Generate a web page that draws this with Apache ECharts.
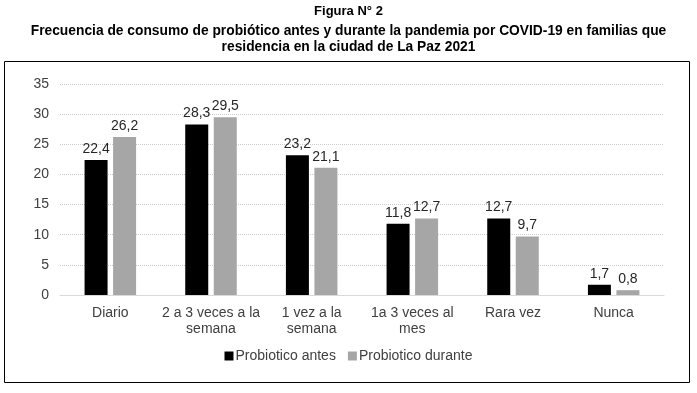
<!DOCTYPE html>
<html>
<head>
<meta charset="utf-8">
<script src="https://cdn.jsdelivr.net/npm/echarts@6/dist/echarts.min.js"></script>
<style>
  html, body { margin: 0; padding: 0; background: #fff; }
  #chart { width: 697px; height: 393px; }
</style>
</head>
<body>
<div id="chart"></div>
<script>
const categories = ['Diario', '2 a 3 veces a la\nsemana', '1 vez a la\nsemana', '1a 3 veces al\nmes', 'Rara vez', 'Nunca'];
const antes = [22.4, 28.3, 23.2, 11.8, 12.7, 1.7];
const durante = [26.2, 29.5, 21.1, 12.7, 9.7, 0.8];
const yTicks = [0, 5, 10, 15, 20, 25, 30, 35];
const titleLines = [
    'Figura N° 2',
    'Frecuencia de consumo de probiótico antes y durante la pandemia por COVID-19 en familias que',
    'residencia en la ciudad de La Paz 2021'
];

const font = '"Liberation Sans", Arial, sans-serif';
const fmt = p => String(p.value).replace('.', ',');
const titleTops = [5, 24, 40];
const titleSizes = [13, 13.8, 13.8];

const chart = echarts.init(document.getElementById('chart'));

chart.setOption({
    animation: false,
    textStyle: { fontFamily: font },
    title: titleLines.map((t, i) => ({
        text: t,
        left: 'center',
        top: titleTops[i],
        padding: 0,
        textStyle: { fontSize: titleSizes[i], fontWeight: 'bold', color: '#000', fontFamily: font }
    })),
    graphic: [{
        type: 'rect',
        shape: { x: 4.5, y: 61.5, width: 685, height: 321 },
        style: { fill: 'none', stroke: '#000', lineWidth: 1 },
        silent: true
    }],
    legend: {
        data: ['Probiotico antes', 'Probiotico durante'],
        bottom: 25,
        left: 'center',
        icon: 'rect',
        itemWidth: 9,
        itemHeight: 9,
        itemGap: 12,
        textStyle: { fontSize: 14, color: '#404040', padding: [0, 0, 0, -3] }
    },
    grid: { left: 60, right: 33, top: 84, bottom: 98 },
    xAxis: {
        type: 'category',
        data: categories,
        axisLine: { show: true, lineStyle: { color: '#d9d9d9' } },
        axisTick: { show: false },
        axisLabel: { fontSize: 14, color: '#404040', lineHeight: 16, margin: 10, interval: 0 }
    },
    yAxis: {
        type: 'value',
        min: yTicks[0],
        max: yTicks[yTicks.length - 1],
        interval: 5,
        axisLine: { show: false },
        axisTick: { show: false },
        axisLabel: { fontSize: 14, color: '#404040', margin: 11 },
        splitLine: { lineStyle: { color: '#cfc8cf', type: 'dotted' } }
    },
    series: [
        {
            name: 'Probiotico antes',
            type: 'bar',
            data: antes,
            barWidth: 23,
            barGap: '24%',
            itemStyle: { color: '#000' },
            label: { show: true, position: 'top', distance: 4, fontSize: 14, color: '#262626', formatter: fmt }
        },
        {
            name: 'Probiotico durante',
            type: 'bar',
            data: durante,
            barWidth: 23,
            itemStyle: { color: '#a6a6a6' },
            label: { show: true, position: 'top', distance: 4, fontSize: 14, color: '#262626', formatter: fmt }
        }
    ]
});
</script>
</body>
</html>
